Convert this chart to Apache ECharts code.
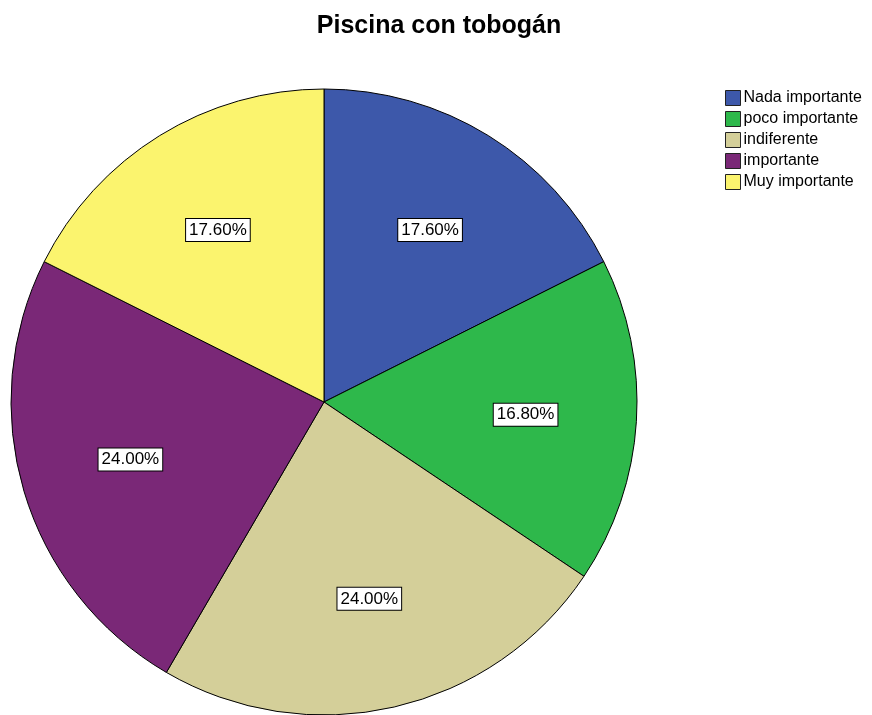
<!DOCTYPE html>
<html>
<head>
<meta charset="utf-8">
<script src="https://cdn.jsdelivr.net/npm/echarts@6/dist/echarts.min.js"></script>
<style>html,body{margin:0;padding:0;background:#fff;}#c{width:872px;height:715px;}</style>
</head>
<body>
<div id="c"></div>
<script>
const categories = ['Nada importante', 'poco importante', 'indiferente', 'importante', 'Muy importante'];
const values = [17.6, 16.8, 24.0, 24.0, 17.6];
const colors = ['#3d58aa', '#2eb84b', '#d4cf99', '#7a2877', '#fbf46e'];

const data = categories.map((c, i) => ({ name: c, value: values[i], itemStyle: { color: colors[i] } }));
const labelData = categories.map((c, i) => ({ name: c, value: values[i] }));

const chart = echarts.init(document.getElementById('c'));
chart.setOption({
  animation: false,
  backgroundColor: '#ffffff',
  title: {
    text: 'Piscina con tobogán',
    left: 434, top: 9, textAlign: 'center',
    textStyle: { fontFamily: 'Liberation Sans', fontSize: 25, fontWeight: 'bold', color: '#000' }
  },
  legend: {
    orient: 'vertical', left: 720, top: 85,
    itemWidth: 15, itemHeight: 15, itemGap: 5,
    icon: 'rect',
    itemStyle: { borderColor: '#222', borderWidth: 1 },
    textStyle: { fontFamily: 'Liberation Sans', fontSize: 16, color: '#000', padding: [0, 0, 0, -2] },
    data: categories
  },
  series: [
    {
      type: 'pie', center: [324, 402], radius: [0, 313],
      startAngle: 90, clockwise: true, silent: true,
      itemStyle: { borderColor: '#000', borderWidth: 1 },
      label: { show: false }, labelLine: { show: false },
      data: data
    },
    {
      type: 'pie', center: [324, 402], radius: [85, 313],
      startAngle: 90, clockwise: true, silent: true,
      legendHoverLink: false,
      itemStyle: { color: 'rgba(0,0,0,0)', borderWidth: 0 },
      label: {
        show: true, position: 'inside',
        formatter: p => p.value.toFixed(2) + '%',
        fontFamily: 'Liberation Sans', fontSize: 17, color: '#000',
        backgroundColor: '#fff', borderColor: '#000', borderWidth: 1,
        padding: [3, 3, 2, 3]
      },
      labelLine: { show: false },
      data: labelData
    }
  ]
});
</script>
</body>
</html>
